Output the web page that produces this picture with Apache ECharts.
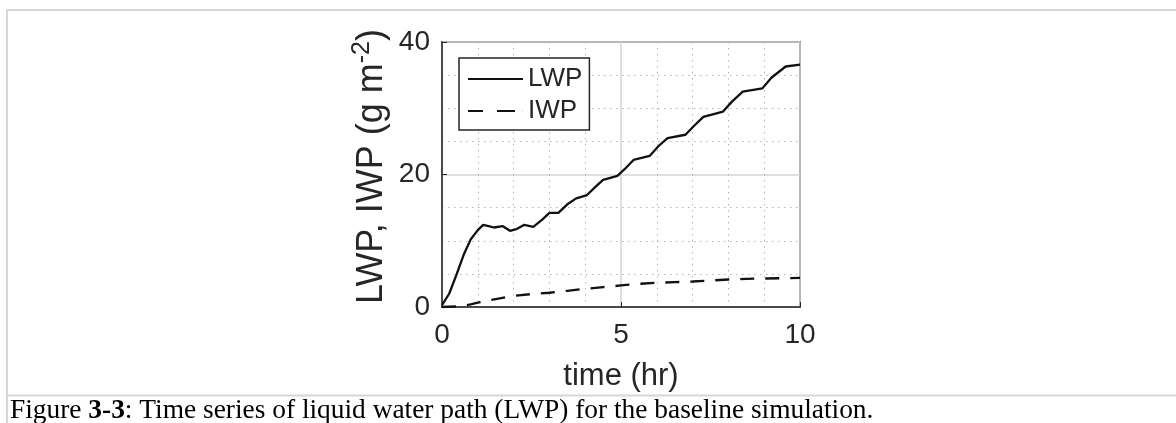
<!DOCTYPE html>
<html>
<head>
<meta charset="utf-8">
<script src="https://cdn.jsdelivr.net/npm/echarts@6/dist/echarts.min.js"></script>
<style>
html,body{margin:0;padding:0;background:#fff;}
#chart{width:1176px;height:423px;}
</style>
</head>
<body>
<div id="chart"></div>
<script>
// ---- data ----
var lwpTime = [0, 0.2, 0.4, 0.6, 0.8, 1.0, 1.15, 1.3, 1.45, 1.7, 1.9, 2.1, 2.3, 2.55, 2.8, 3.0, 3.25, 3.5, 3.75, 4.05, 4.3, 4.5, 4.9, 5.1, 5.35, 5.8, 6.05, 6.3, 6.8, 7.05, 7.3, 7.85, 8.1, 8.4, 8.95, 9.2, 9.6, 10];
var lwpValues = [0.3, 2.0, 4.8, 7.8, 10.2, 11.6, 12.4, 12.2, 12.0, 12.2, 11.5, 11.8, 12.4, 12.1, 13.2, 14.2, 14.2, 15.5, 16.4, 16.9, 18.2, 19.2, 19.8, 20.8, 22.2, 22.8, 24.3, 25.5, 26.0, 27.4, 28.7, 29.5, 31.0, 32.5, 33.0, 34.6, 36.3, 36.6];
var iwpTime = [0, 0.5, 0.8, 1.0, 1.5, 2.0, 2.5, 3.0, 3.5, 4.0, 4.5, 5.0, 5.5, 6.0, 6.5, 7.0, 7.5, 8.0, 8.5, 9.0, 9.5, 10];
var iwpValues = [0, 0.1, 0.4, 0.65, 1.2, 1.7, 1.95, 2.15, 2.45, 2.75, 3.0, 3.25, 3.5, 3.65, 3.75, 3.85, 4.0, 4.15, 4.25, 4.3, 4.35, 4.4];
var seriesNames = ['LWP', 'IWP'];
var xTicks = [0, 5, 10];
var yTicks = [0, 20, 40];
var xAxisTitle = 'time (hr)';
var yAxisTitle = ['LWP, IWP (g m', '-2', ')'];
var captionParts = ['Figure ', '3-3', ': Time series of liquid water path (LWP) for the baseline simulation.'];

function pairs(t, v) { return t.map(function (x, i) { return [x, v[i]]; }); }

var chart = echarts.init(document.getElementById('chart'), null, {renderer: 'canvas'});
var axisColor = '#262626';
var sans = '"Liberation Sans", Arial, Helvetica, sans-serif';
var serif = '"Liberation Serif", "Times New Roman", serif';

chart.setOption({
  animation: false,
  backgroundColor: '#ffffff',
  textStyle: {fontFamily: sans, color: axisColor},
  grid: {
    left: 442, top: 42, width: 358, height: 265,
    show: true, borderColor: axisColor, borderWidth: 1.5, backgroundColor: 'transparent'
  },
  legend: {
    orient: 'vertical',
    left: 459, top: 58,
    padding: [8, 7, 6, 9],
    itemGap: 6,
    itemWidth: 55, itemHeight: 2,
    backgroundColor: '#fff',
    borderColor: axisColor, borderWidth: 1.5,
    textStyle: {fontFamily: sans, fontSize: 26, color: axisColor, lineHeight: 26},
    data: [
      {name: seriesNames[0], icon: 'path://M0,0H55V2H0Z'},
      {name: seriesNames[1], icon: 'path://M0,0H15V2H0Z M29,0H47V2H29Z M54.9,0H55V2H54.9Z'}
    ]
  },
  xAxis: {
    type: 'value',
    min: xTicks[0], max: xTicks[xTicks.length - 1], interval: xTicks[1] - xTicks[0],
    name: xAxisTitle, nameLocation: 'middle', nameGap: 54,
    nameTextStyle: {fontFamily: sans, fontSize: 31, color: axisColor},
    axisLine: {show: true, onZero: false, lineStyle: {color: axisColor, width: 1.5}},
    axisTick: {show: true, inside: true, length: 5, lineStyle: {color: axisColor}},
    axisLabel: {fontFamily: sans, fontSize: 28, color: axisColor, margin: 14},
    splitLine: {show: true, lineStyle: {color: '#d4d4d4', width: 1.5}},
    minorTick: {show: false, splitNumber: 5},
    minorSplitLine: {show: true, lineStyle: {color: '#b5b5b5', width: 1, type: [1.5, 4.5]}}
  },
  yAxis: {
    type: 'value',
    min: yTicks[0], max: yTicks[yTicks.length - 1], interval: yTicks[1] - yTicks[0],
    name: yAxisTitle[0] + '{sup|' + yAxisTitle[1] + '}' + yAxisTitle[2],
    nameLocation: 'middle', nameGap: 46,
    nameTextStyle: {
      fontFamily: sans, fontSize: 36, color: axisColor, lineHeight: 36,
      padding: [0, 0, 0, 16],
      rich: {sup: {fontFamily: sans, fontSize: 25, color: axisColor, lineHeight: 25, padding: [0, 0, 20, 0]}}
    },
    axisLine: {show: true, lineStyle: {color: axisColor, width: 1.5}},
    axisTick: {show: true, inside: true, length: 5, lineStyle: {color: axisColor}},
    axisLabel: {fontFamily: sans, fontSize: 28, color: axisColor, margin: 12},
    splitLine: {show: true, lineStyle: {color: '#d4d4d4', width: 1.5}},
    minorTick: {show: false, splitNumber: 4},
    minorSplitLine: {show: true, lineStyle: {color: '#b5b5b5', width: 1, type: [1.5, 4.5]}}
  },
  series: [
    {
      name: seriesNames[0], type: 'line', data: pairs(lwpTime, lwpValues),
      showSymbol: false, symbol: 'none', smooth: false,
      lineStyle: {color: '#111', width: 2.3},
      itemStyle: {color: '#111'}, z: 3
    },
    {
      name: seriesNames[1], type: 'line', data: pairs(iwpTime, iwpValues),
      showSymbol: false, symbol: 'none', smooth: false,
      lineStyle: {color: '#111', width: 2.3, type: [14, 11]},
      itemStyle: {color: '#111'}, z: 3
    }
  ],
  graphic: [
    {type: 'line', silent: true, shape: {x1: 7, y1: 10, x2: 1176, y2: 10}, style: {stroke: '#d6d6d6', lineWidth: 2}},
    {type: 'line', silent: true, shape: {x1: 7, y1: 9, x2: 7, y2: 423}, style: {stroke: '#d6d6d6', lineWidth: 2}},
    {type: 'line', silent: true, shape: {x1: 7, y1: 395.5, x2: 1176, y2: 395.5}, style: {stroke: '#d6d6d6', lineWidth: 2}},
    {
      type: 'text', silent: true, left: 10, top: 397,
      style: {
        text: captionParts[0] + '{b|' + captionParts[1] + '}' + captionParts[2],
        font: '27.4px ' + serif,
        fill: '#000',
        rich: {b: {fontFamily: serif, fontSize: 27.4, fontWeight: 'bold', fill: '#000'}}
      }
    }
  ]
});
</script>
</body>
</html>
